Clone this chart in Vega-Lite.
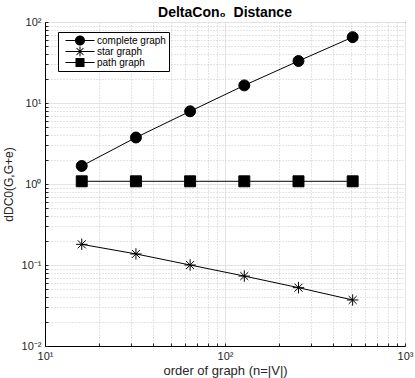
{
  "$schema": "https://vega.github.io/schema/vega-lite/v6.json",
  "width": 360,
  "height": 324,
  "autosize": "none",
  "padding": {"left": 45, "top": 22, "right": 10, "bottom": 32},
  "title": {"text": "DeltaCon₀\u00a0\u00a0Distance", "fontSize": 14, "fontWeight": "bold", "font": "Liberation Sans", "offset": 0, "dy": 4, "color": "black"},
  "config": {
    "font": "Liberation Sans",
    "view": {"stroke": "black", "strokeWidth": 1},
    "axis": {"domainColor": "black", "labelColor": "#262626", "titleColor": "#262626", "labelFont": "Liberation Sans", "titleFont": "Liberation Sans", "titleFontWeight": "normal", "tickColor": "#262626"}
  },
  "data": {"values": [
    {"n": 16, "d": 1.67, "g": "complete graph"},
    {"n": 32, "d": 3.75, "g": "complete graph"},
    {"n": 64, "d": 7.9, "g": "complete graph"},
    {"n": 128, "d": 16.5, "g": "complete graph"},
    {"n": 256, "d": 33, "g": "complete graph"},
    {"n": 512, "d": 65, "g": "complete graph"},
    {"n": 16, "d": 0.18, "g": "star graph"},
    {"n": 32, "d": 0.137, "g": "star graph"},
    {"n": 64, "d": 0.1, "g": "star graph"},
    {"n": 128, "d": 0.073, "g": "star graph"},
    {"n": 256, "d": 0.0525, "g": "star graph"},
    {"n": 512, "d": 0.037, "g": "star graph"},
    {"n": 16, "d": 1.08, "g": "path graph"},
    {"n": 32, "d": 1.08, "g": "path graph"},
    {"n": 64, "d": 1.08, "g": "path graph"},
    {"n": 128, "d": 1.08, "g": "path graph"},
    {"n": 256, "d": 1.08, "g": "path graph"},
    {"n": 512, "d": 1.08, "g": "path graph"}
  ]},
  "encoding": {
    "x": {"field": "n", "type": "quantitative",
      "scale": {"type": "log", "domain": [10, 1000], "nice": false},
      "axis": {
        "title": "order of graph (n=|V|)", "titleFontSize": 13, "titlePadding": 3,
        "values": [10,20,30,40,50,60,70,80,90,100,200,300,400,500,600,700,800,900,1000],
        "labelExpr": "datum.value==10?'10¹':datum.value==100?'10²':datum.value==1000?'10³':''",
        "labelFontSize": 11, "labelPadding": 7, "labelFlush": false,
        "ticks": true, "tickSize": -3,
        "gridColor": {"condition": {"test": "datum.value==10||datum.value==100||datum.value==1000", "value": "#e3e3e3"}, "value": "#c8c8c8"},
        "gridDash": {"condition": {"test": "datum.value==10||datum.value==100||datum.value==1000", "value": []}, "value": [1, 2]}
      }},
    "y": {"field": "d", "type": "quantitative",
      "scale": {"type": "log", "domain": [0.01, 100], "nice": false},
      "axis": {
        "title": "dDC0(G,G+e)", "titleFontSize": 12, "titlePadding": 6,
        "values": [0.01,0.02,0.03,0.04,0.05,0.06,0.07,0.08,0.09,0.1,0.2,0.3,0.4,0.5,0.6,0.7,0.8,0.9,1,2,3,4,5,6,7,8,9,10,20,30,40,50,60,70,80,90,100],
        "labelExpr": "datum.value==0.01?'10⁻²':datum.value==0.1?'10⁻¹':datum.value==1?'10⁰':datum.value==10?'10¹':datum.value==100?'10²':''",
        "labelFontSize": 11, "labelPadding": 7, "labelFlush": false,
        "ticks": true, "tickSize": -3,
        "gridColor": {"condition": {"test": "datum.value==0.01||datum.value==0.1||datum.value==1||datum.value==10||datum.value==100", "value": "#e3e3e3"}, "value": "#c8c8c8"},
        "gridDash": {"condition": {"test": "datum.value==0.01||datum.value==0.1||datum.value==1||datum.value==10||datum.value==100", "value": []}, "value": [1, 2]}
      }}
  },
  "resolve": {"scale": {"shape": "independent"}},
  "layer": [
    {"mark": {"type": "line", "color": "black", "strokeWidth": 1},
     "encoding": {"detail": {"field": "g"}}},
    {"mark": {"type": "point", "filled": true, "fill": "black", "opacity": 0},
     "encoding": {
       "shape": {"field": "g", "type": "nominal",
         "scale": {"domain": ["complete graph", "star graph", "path graph"],
                   "range": [
                     "M-2.9,-0.1L2.9,-0.1L2.9,0.1L-2.9,0.1ZM-1,0A1,1,0,1,1,1,0A1,1,0,1,1,-1,0Z",
                     "M-2.9,-0.1L2.9,-0.1L2.9,0.1L-2.9,0.1ZM-0.1,-1L0.1,-1L0.1,1L-0.1,1ZM-0.63,-0.77L0.77,0.63L0.63,0.77L-0.77,-0.63ZM-0.77,0.63L0.63,-0.77L0.77,-0.63L-0.63,0.77Z",
                     "M-2.9,-0.1L2.9,-0.1L2.9,0.1L-2.9,0.1ZM-0.9,-0.9L0.9,-0.9L0.9,0.9L-0.9,0.9Z"]},
         "legend": {"title": null, "orient": "none", "legendX": 13, "legendY": 10, "padding": 3,
           "strokeColor": "black", "fillColor": "white", "labelFontSize": 10, "labelColor": "black",
           "symbolSize": 100, "symbolStrokeWidth": 0, "symbolFillColor": "black", "symbolOpacity": 1,
           "symbolOffset": 14, "rowPadding": 0, "labelOffset": 12, "cornerRadius": 0, "clipHeight": 11}}
     }},
    {"mark": {"type": "point", "filled": false, "fill": "black", "stroke": "black", "strokeWidth": 1, "opacity": 1},
     "encoding": {
       "shape": {"field": "g", "type": "nominal",
         "scale": {"domain": ["complete graph", "star graph", "path graph"],
                   "range": ["circle", "M-1,0L1,0M0,-1L0,1M-0.7,-0.7L0.7,0.7M-0.7,0.7L0.7,-0.7", "square"]},
         "legend": null},
       "size": {"condition": {"test": "datum.g=='star graph'", "value": 130}, "value": 120}
     }}
  ]
}
